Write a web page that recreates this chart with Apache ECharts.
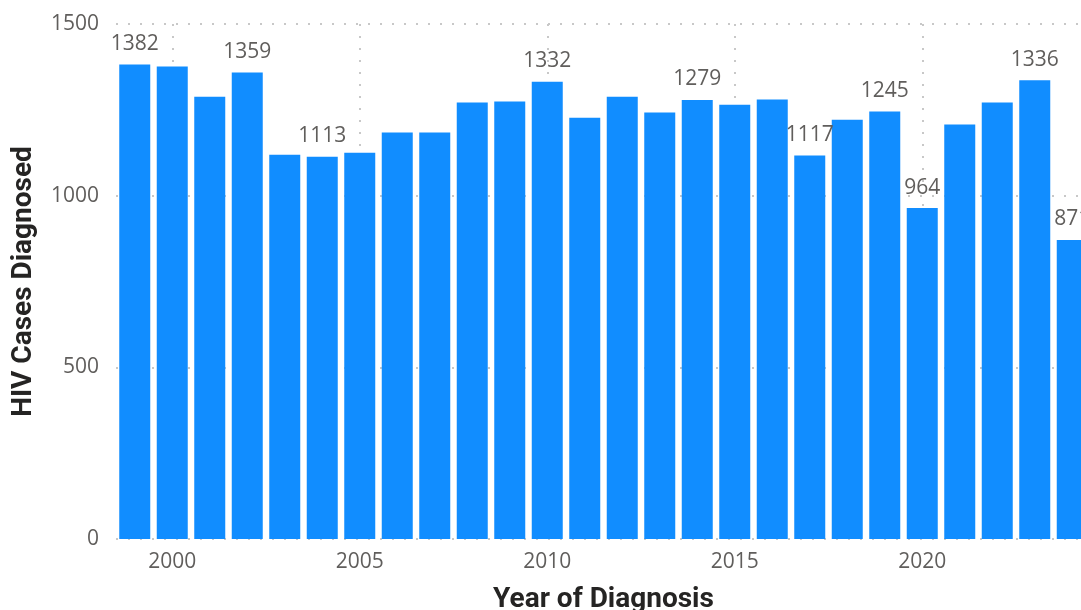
<!DOCTYPE html>
<html>
<head>
<meta charset="utf-8">
<script src="https://cdn.jsdelivr.net/npm/echarts@6/dist/echarts.min.js"></script>
<style>
  html, body { margin: 0; padding: 0; background: #fff; }
  #chart { width: 1081px; height: 610px; }
</style>
</head>
<body>
<div id="chart"></div>
<script>
// 诊断年份
const years = ['1999', '2000', '2001', '2002', '2003', '2004', '2005', '2006', '2007', '2008',
  '2009', '2010', '2011', '2012', '2013', '2014', '2015', '2016', '2017', '2018',
  '2019', '2020', '2021', '2022', '2023', '2024']
// 每年诊断的 HIV 病例数
const cases = [1382, 1376, 1288, 1359, 1119, 1113, 1125, 1184, 1184, 1271,
  1274, 1332, 1227, 1288, 1242, 1279, 1265, 1280, 1117, 1221,
  1245, 964, 1207, 1271, 1336, 871]
// 显示数据标签的年份
const labeledYears = ['1999', '2002', '2004', '2010', '2014', '2017', '2019', '2020', '2023', '2024']
const yTicks = [0, 500, 1000, 1500]
const xTickYears = ['2000', '2005', '2010', '2015', '2020']

const chart = echarts.init(document.getElementById('chart'))
const labelFont = '"Open Sans", "Noto Sans", sans-serif'
const titleFont = 'Roboto, "Noto Sans", sans-serif'
const dotted = { color: '#c8c8c8', width: 2, type: [2, 10] }

const option = {
  animation: false,
  grid: {
    left: 116,
    right: -10,
    top: 24,
    bottom: 71,
    containLabel: false,
    outerBoundsMode: 'none'
  },
  xAxis: {
    type: 'category',
    data: years,
    name: 'Year of Diagnosis',
    nameLocation: 'middle',
    nameGap: 47,
    nameTextStyle: { fontFamily: titleFont, fontSize: 28, fontWeight: 'bold', color: '#252423' },
    axisLine: { show: false },
    axisTick: { show: false },
    axisLabel: {
      interval: (i, v) => xTickYears.includes(v),
      margin: 13,
      fontFamily: labelFont,
      fontSize: 21,
      color: '#605e5c'
    },
    splitLine: {
      show: true,
      alignWithLabel: true,
      interval: (i, v) => xTickYears.includes(v),
      lineStyle: dotted
    }
  },
  yAxis: {
    type: 'value',
    min: yTicks[0],
    max: yTicks[yTicks.length - 1],
    interval: 500,
    name: 'HIV Cases Diagnosed',
    nameLocation: 'middle',
    nameGap: 78,
    nameTextStyle: { fontFamily: titleFont, fontSize: 28, fontWeight: 'bold', color: '#252423' },
    axisLine: { show: false },
    axisTick: { show: false },
    axisLabel: {
      margin: 17,
      formatter: v => String(v),
      fontFamily: labelFont,
      fontSize: 21,
      color: '#605e5c'
    },
    splitLine: { show: true, lineStyle: dotted }
  },
  series: [
    {
      type: 'bar',
      barWidth: 31,
      itemStyle: { color: '#118dff' },
      data: cases.map((v, i) => ({
        value: v,
        label: { show: labeledYears.includes(years[i]) }
      })),
      label: {
        position: 'top',
        distance: 10,
        fontFamily: labelFont,
        fontSize: 21,
        color: '#605e5c'
      }
    }
  ]
}
chart.setOption(option)
</script>
</body>
</html>
